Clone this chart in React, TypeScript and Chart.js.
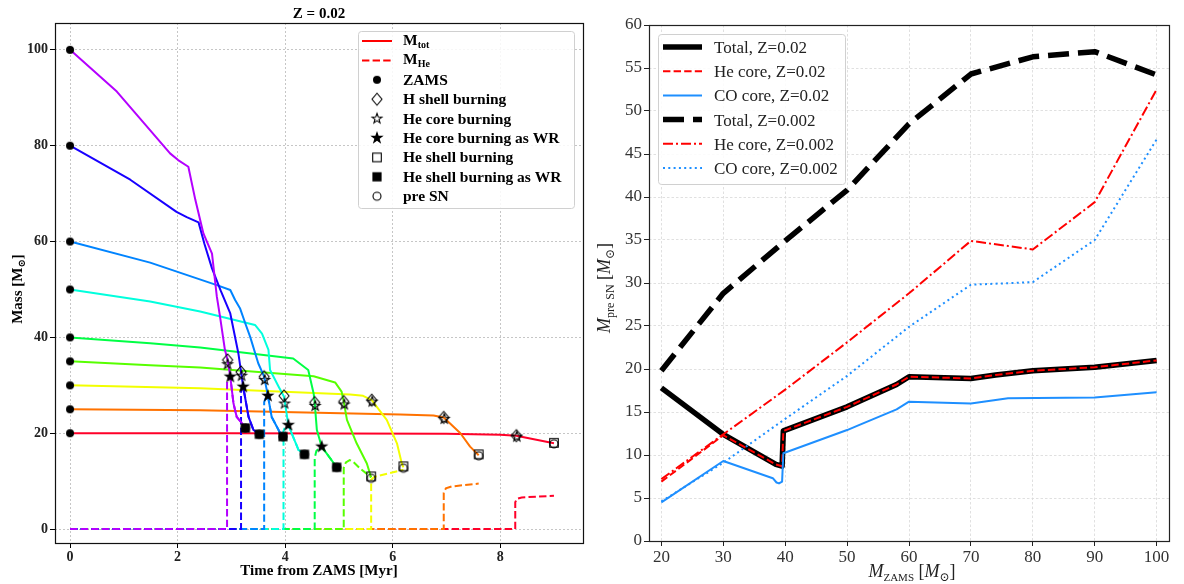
import React, { useEffect, useRef } from "react";
import { Chart, registerables } from "chart.js";

Chart.register(...registerables);

const SERIF = '"Liberation Serif", "DejaVu Serif", "Times New Roman", serif';

// ---------------- Left panel: mass tracks at Z = 0.02 (time in Myr, mass in Msun) ----------------
const initialMasses = [20, 25, 30, 35, 40, 50, 60, 80, 100];
const trackColors = ["#ff0029", "#ff7200", "#f2ff00", "#57ff00", "#00ff44", "#00ffdd", "#0084ff", "#1800ff", "#b400ff"];

const totTrack20 = [[0, 20], [3, 20], [7, 19.9], [8, 19.7], [8.3, 19.5], [9.0, 17.9]];
const totTrack25 = [[0, 25], [2.42, 24.8], [6.14, 23.9], [6.76, 23.7], [6.95, 23.3], [7.26, 20.0], [7.44, 17.2], [7.6, 15.4]];
const totTrack30 = [[0, 30], [2.42, 29.4], [5.21, 28.1], [5.45, 27.8], [5.61, 26.9], [5.89, 22.8], [6.08, 17.9], [6.17, 13.7], [6.2, 12.9]];
const totTrack35 = [[0, 35], [1.49, 34.2], [2.42, 33.7], [4.53, 31.9], [4.93, 30.6], [5.05, 28.7], [5.09, 26.6], [5.15, 22.8], [5.33, 17.9], [5.52, 13.7], [5.6, 10.8]];
const totTrack40 = [[0, 40], [1.49, 38.8], [2.42, 37.9], [4.15, 35.6], [4.43, 33.2], [4.53, 28.3], [4.55, 26.4], [4.59, 20.7], [4.68, 17.2], [4.96, 12.9]];
const totTrack50 = [[0, 50], [1.49, 47.5], [2.42, 45.4], [3.44, 42.6], [3.57, 40.8], [3.69, 37.4], [3.72, 33.2], [3.88, 29.7], [3.98, 27.6], [4.06, 21.7], [4.25, 16.5], [4.36, 15.6]];
const totTrack60 = [[0, 60], [1.49, 55.6], [2.73, 50.9], [2.98, 49.9], [3.07, 47.8], [3.16, 46.1], [3.26, 42.9], [3.35, 40.1], [3.5, 34.6], [3.61, 31.8], [3.68, 27.8], [3.75, 23.4], [3.91, 20.0], [3.96, 19.3]];
const totTrack80 = [[0, 80], [1.12, 72.9], [1.98, 66.2], [2.17, 65.1], [2.39, 64.0], [2.5, 59.5], [2.64, 54.4], [2.8, 49.8], [2.98, 45.0], [3.13, 36.7], [3.18, 32.8], [3.22, 29.7], [3.32, 23.4], [3.41, 20.7], [3.52, 19.8]];
const totTrack100 = [[0, 100], [0.87, 91.3], [1.86, 78.4], [2.01, 77.0], [2.2, 75.6], [2.33, 68.7], [2.48, 61.7], [2.64, 57.5], [2.73, 48.5], [2.79, 44.3], [2.88, 37.4], [2.93, 35.3], [2.98, 31.8], [3.04, 26.2], [3.1, 23.4], [3.19, 22.2], [3.26, 21.1]];

const heTrack20 = [[0, 0], [8.28, 0], [8.28, 5.6], [8.31, 6.3], [8.4, 6.6], [9.0, 6.95]];
const heTrack25 = [[0, 0], [6.95, 0], [6.95, 7.6], [6.99, 8.5], [7.1, 8.9], [7.6, 9.5]];
const heTrack30 = [[0, 0], [5.6, 0], [5.6, 10.3], [5.66, 10.9], [6.2, 12.4]];
const heTrack35 = [[0, 0], [5.09, 0], [5.09, 12.8], [5.13, 13.9], [5.2, 14.4], [5.27, 14.0], [5.39, 12.7], [5.6, 10.8]];
const heTrack40 = [[0, 0], [4.55, 0], [4.55, 14.8], [4.58, 16.3], [4.63, 16.8], [4.68, 17.2], [4.96, 12.9]];
const heTrack50 = [[0, 0], [3.97, 0], [3.97, 20.5], [4.0, 21.3], [4.06, 21.7], [4.25, 16.5], [4.36, 15.6]];
const heTrack60 = [[0, 0], [3.61, 0], [3.61, 26.5], [3.64, 27.4], [3.68, 27.8], [3.75, 23.4], [3.91, 20.0], [3.96, 19.3]];
const heTrack80 = [[0, 0], [3.18, 0], [3.18, 28.5], [3.2, 29.4], [3.22, 29.7], [3.32, 23.4], [3.41, 20.7], [3.52, 19.8]];
const heTrack100 = [[0, 0], [2.92, 0], [2.92, 30.5], [2.95, 31.5], [2.98, 31.8], [3.04, 26.2], [3.1, 23.4], [3.19, 22.2], [3.26, 21.1]];

const zamsPoints = [[0, 20], [0, 25], [0, 30], [0, 35], [0, 40], [0, 50], [0, 60], [0, 80], [0, 100]];
const hShellPoints = [[2.93, 35.3], [3.18, 32.8], [3.61, 31.8], [3.98, 27.8], [4.55, 26.4], [5.09, 26.6], [5.61, 26.9], [6.95, 23.3], [8.3, 19.5]];
const heCorePoints = [[2.93, 34.4], [3.19, 32.0], [3.62, 31.1], [3.99, 26.2], [4.56, 25.7], [5.1, 26.0], [5.62, 26.6], [6.96, 23.0], [8.31, 19.3]];
const heCoreWRPoints = [[2.98, 31.8], [3.22, 29.7], [3.68, 27.8], [4.06, 21.7], [4.68, 17.2]];
const heShellPoints = [[5.6, 11.0], [6.2, 13.1], [7.6, 15.6], [9.0, 18.0]];
const heShellWRPoints = [[3.26, 21.1], [3.52, 19.8], [3.96, 19.3], [4.36, 15.6], [4.96, 12.9]];
const preSNPoints = [[3.26, 21.1], [3.52, 19.8], [3.96, 19.3], [4.36, 15.6], [4.96, 12.9], [5.6, 10.6], [6.2, 12.7], [7.6, 15.3], [9.0, 17.8]];

const timeTicks = [0, 2, 4, 6, 8];
const massTicks = [0, 20, 40, 60, 80, 100];

// ---------------- Right panel: pre-SN masses vs ZAMS mass ----------------
const mZamsZ02 = [20, 30, 38.5, 39.5, 39.7, 50, 58, 60, 70, 74, 80, 90, 100];
const totalZ02 = [17.8, 12.4, 8.9, 8.7, 12.8, 15.6, 18.2, 19.1, 18.9, 19.3, 19.8, 20.2, 21.0];
const heCoreZ02 = [6.9, 12.3, 8.9, 8.7, 12.8, 15.6, 18.2, 19.1, 18.9, 19.3, 19.8, 20.2, 21.0];
const mZamsCOZ02 = [20, 30, 38, 38.6, 39.0, 39.5, 39.7, 50, 52, 58, 60, 70, 74, 76, 90, 100];
const coCoreZ02 = [4.5, 9.3, 7.3, 6.8, 6.7, 6.9, 10.2, 12.9, 13.5, 15.3, 16.2, 16.0, 16.4, 16.6, 16.7, 17.3];
const mZamsZ002 = [20, 30, 40, 50, 60, 70, 80, 90, 100];
const totalZ002 = [19.8, 28.8, 34.9, 40.8, 48.5, 54.3, 56.3, 56.9, 54.2];
const heCoreZ002 = [7.2, 12.4, 17.6, 23.1, 28.8, 34.9, 33.9, 39.4, 52.5];
const coCoreZ002 = [4.6, 9.1, 14.2, 19.2, 24.9, 29.8, 30.1, 35.0, 46.7];

const zamsTicks = [20, 30, 40, 50, 60, 70, 80, 90, 100];
const preSNTicks = [0, 5, 10, 15, 20, 25, 30, 35, 40, 45, 50, 55, 60];

const pairs = (list: number[][]) => list.map(([x, y]) => ({ x, y }));
const zip = (xs: number[], ys: number[]) => xs.map((x, i) => ({ x, y: ys[i] }));

function makeMarker(kind: string): HTMLCanvasElement {
  const size = 20;
  const c = document.createElement("canvas");
  c.width = size;
  c.height = size;
  const g = c.getContext("2d")!;
  const m = size / 2;
  g.strokeStyle = "#000";
  g.fillStyle = "#000";
  g.lineWidth = 1.1;
  const star = (ro: number, ri: number) => {
    g.beginPath();
    for (let i = 0; i < 10; i++) {
      const a = -Math.PI / 2 + (i * Math.PI) / 5;
      const r = i % 2 === 0 ? ro : ri;
      const px = m + r * Math.cos(a);
      const py = m + r * Math.sin(a);
      if (i === 0) g.moveTo(px, py);
      else g.lineTo(px, py);
    }
    g.closePath();
  };
  if (kind === "zams") {
    g.beginPath();
    g.arc(m, m, 4, 0, Math.PI * 2);
    g.fill();
  } else if (kind === "hshell") {
    g.beginPath();
    g.moveTo(m, m - 6);
    g.lineTo(m + 5, m);
    g.lineTo(m, m + 6);
    g.lineTo(m - 5, m);
    g.closePath();
    g.stroke();
  } else if (kind === "hecore") {
    star(5.2, 2.1);
    g.stroke();
  } else if (kind === "hecoreWR") {
    star(7, 2.8);
    g.fill();
  } else if (kind === "heshell") {
    g.strokeRect(m - 4.3, m - 4.3, 8.6, 8.6);
  } else if (kind === "heshellWR") {
    g.fillRect(m - 4.6, m - 4.6, 9.2, 9.2);
  } else if (kind === "preSN") {
    g.beginPath();
    g.arc(m, m, 4, 0, Math.PI * 2);
    g.stroke();
  }
  return c;
}

type Part = { t: string; f: string; dy?: number };
function rich(ctx: CanvasRenderingContext2D, parts: Part[], x: number, y: number, align: "left" | "center") {
  let w = 0;
  for (const p of parts) {
    ctx.font = p.f;
    w += ctx.measureText(p.t).width;
  }
  let cx = align === "center" ? x - w / 2 : x;
  ctx.textAlign = "left";
  for (const p of parts) {
    ctx.font = p.f;
    ctx.fillText(p.t, cx, y + (p.dy || 0));
    cx += ctx.measureText(p.t).width;
  }
}

function legendBox(ctx: CanvasRenderingContext2D, x: number, y: number, w: number, h: number) {
  ctx.save();
  ctx.beginPath();
  (ctx as any).roundRect(x + 0.5, y + 0.5, w, h, 3);
  ctx.fillStyle = "rgba(255,255,255,0.85)";
  ctx.fill();
  ctx.strokeStyle = "#d0d0d0";
  ctx.lineWidth = 1;
  ctx.stroke();
  ctx.restore();
}

function handleLine(ctx: CanvasRenderingContext2D, x0: number, x1: number, y: number, color: string, width: number, dash: number[]) {
  ctx.save();
  ctx.strokeStyle = color;
  ctx.lineWidth = width;
  ctx.setLineDash(dash);
  ctx.beginPath();
  ctx.moveTo(x0, y);
  ctx.lineTo(x1, y);
  ctx.stroke();
  ctx.restore();
}

function frame(ctx: CanvasRenderingContext2D, a: any, color: string) {
  ctx.save();
  ctx.strokeStyle = color;
  ctx.lineWidth = 1.2;
  ctx.setLineDash([]);
  ctx.strokeRect(Math.round(a.left) + 0.5, Math.round(a.top) + 0.5, Math.round(a.right - a.left), Math.round(a.bottom - a.top));
  ctx.restore();
}

const HE_DASH = [7.4, 3.2];

export default function App() {
  const leftRef = useRef<HTMLCanvasElement>(null);
  const rightRef = useRef<HTMLCanvasElement>(null);

  useEffect(() => {
    const mk = {
      zams: makeMarker("zams"),
      hshell: makeMarker("hshell"),
      hecore: makeMarker("hecore"),
      hecoreWR: makeMarker("hecoreWR"),
      heshell: makeMarker("heshell"),
      heshellWR: makeMarker("heshellWR"),
      preSN: makeMarker("preSN"),
    };

    const totTracks = [totTrack20, totTrack25, totTrack30, totTrack35, totTrack40, totTrack50, totTrack60, totTrack80, totTrack100];
    const heTracks = [heTrack20, heTrack25, heTrack30, heTrack35, heTrack40, heTrack50, heTrack60, heTrack80, heTrack100];

    // listed bottom-to-top
    const leftSets: any[] = [];
    initialMasses.forEach((m, i) => {
      leftSets.push({
        label: `M_tot ${m}`,
        data: pairs(totTracks[i]),
        showLine: true,
        borderColor: trackColors[i],
        borderWidth: 2,
        pointRadius: 0,
        borderJoinStyle: "round",
      });
      leftSets.push({
        label: `M_He ${m}`,
        data: pairs(heTracks[i]),
        showLine: true,
        borderColor: trackColors[i],
        borderWidth: 2,
        borderDash: HE_DASH,
        pointRadius: 0,
      });
    });
    const markerSets: [number[][], HTMLCanvasElement][] = [
      [zamsPoints, mk.zams],
      [hShellPoints, mk.hshell],
      [heCorePoints, mk.hecore],
      [preSNPoints, mk.preSN],
      [heShellPoints, mk.heshell],
      [heCoreWRPoints, mk.hecoreWR],
      [heShellWRPoints, mk.heshellWR],
    ];
    markerSets.forEach(([p, img], k) => {
      leftSets.push({
        label: `marker ${k}`,
        data: pairs(p),
        showLine: false,
        pointStyle: img,
        pointRadius: 5,
        pointHoverRadius: 5,
      });
    });
    leftSets.forEach((d, i) => (d.order = leftSets.length - i));

    const leftDecor = {
      id: "leftDecor",
      afterDraw(chart: any) {
        const { ctx, chartArea: a } = chart;
        frame(ctx, a, "#111");
        ctx.save();
        ctx.fillStyle = "#000";
        ctx.textBaseline = "alphabetic";
        const cx = (a.left + a.right) / 2;
        const b15 = `bold 15px ${SERIF}`;
        const b10 = `bold 10px ${SERIF}`;
        rich(ctx, [{ t: "Z = 0.02", f: b15 }], cx, 18, "center");
        rich(ctx, [{ t: "Time from ZAMS [Myr]", f: b15 }], cx, 575, "center");
        ctx.save();
        ctx.translate(17, (a.top + a.bottom) / 2 + 6);
        ctx.rotate(-Math.PI / 2);
        rich(ctx, [{ t: "Mass [M", f: b15 }, { t: "⊙", f: b10, dy: 3 }, { t: "]", f: b15 }], 0, 5, "center");
        ctx.restore();

        // legend
        legendBox(ctx, 358, 31, 216, 177);
        const x0 = 362, x1 = 392, mx = 377, tx = 403;
        const rowY = (i: number) => 41 + i * 19.4;
        handleLine(ctx, x0, x1, rowY(0), "#ff0000", 2, []);
        handleLine(ctx, x0, x1, rowY(1), "#ff0000", 2, HE_DASH);
        const imgs = [mk.zams, mk.hshell, mk.hecore, mk.hecoreWR, mk.heshell, mk.heshellWR, mk.preSN];
        imgs.forEach((img, k) => ctx.drawImage(img, mx - 10, rowY(k + 2) - 10));
        ctx.fillStyle = "#000";
        const b14 = `bold 15.5px ${SERIF}`;
        const b9 = `bold 10px ${SERIF}`;
        rich(ctx, [{ t: "M", f: b14 }, { t: "tot", f: b9, dy: 3 }], tx, rowY(0) + 4, "left");
        rich(ctx, [{ t: "M", f: b14 }, { t: "He", f: b9, dy: 3 }], tx, rowY(1) + 4, "left");
        const texts = ["ZAMS", "H shell burning", "He core burning", "He core burning as WR", "He shell burning", "He shell burning as WR", "pre SN"];
        texts.forEach((t, k) => rich(ctx, [{ t, f: b14 }], tx, rowY(k + 2) + 5, "left"));
        ctx.restore();
      },
    };

    const left = new Chart(leftRef.current!, {
      type: "scatter",
      data: { datasets: leftSets },
      options: {
        animation: false,
        responsive: false,
        devicePixelRatio: 1,
        layout: { padding: { top: 23, right: 9, left: 0, bottom: 0 } },
        plugins: { legend: { display: false }, tooltip: { enabled: false } },
        scales: {
          x: {
            type: "linear",
            min: -0.28,
            max: 9.54,
            afterBuildTicks: (s: any) => {
              s.ticks = timeTicks.map((v) => ({ value: v }));
            },
            afterFit: (s: any) => {
              s.height = 41;
            },
            ticks: { font: { family: SERIF, size: 14, weight: "bold" }, color: "#222", padding: 1, maxRotation: 0 },
            grid: { color: "#b8b8b8", lineWidth: 0.8, tickColor: "#000", tickLength: 5, tickWidth: 1, tickBorderDash: [] },
            border: { display: false, dash: [2, 2] },
          },
          y: {
            type: "linear",
            min: -2.9,
            max: 105.6,
            afterBuildTicks: (s: any) => {
              s.ticks = massTicks.map((v) => ({ value: v }));
            },
            afterFit: (s: any) => {
              s.width = 55;
            },
            ticks: { font: { family: SERIF, size: 14, weight: "bold" }, color: "#222", padding: 2 },
            grid: { color: "#b8b8b8", lineWidth: 0.8, tickColor: "#000", tickLength: 5, tickWidth: 1, tickBorderDash: [] },
            border: { display: false, dash: [2, 2] },
          },
        },
      } as any,
      plugins: [leftDecor],
    });

    // ---------- right panel ----------
    const blue = "#1e8fff";
    const rightSets: any[] = [
      { label: "Total, Z=0.02", data: zip(mZamsZ02, totalZ02), borderColor: "#000", borderWidth: 5.5, borderDash: [] },
      { label: "He core, Z=0.02", data: zip(mZamsZ02, heCoreZ02), borderColor: "#ff0000", borderWidth: 2, borderDash: HE_DASH },
      { label: "CO core, Z=0.02", data: zip(mZamsCOZ02, coCoreZ02), borderColor: blue, borderWidth: 2, borderDash: [] },
      { label: "Total, Z=0.002", data: zip(mZamsZ002, totalZ002), borderColor: "#000", borderWidth: 5.5, borderDash: [21, 9] },
      { label: "He core, Z=0.002", data: zip(mZamsZ002, heCoreZ002), borderColor: "#ff0000", borderWidth: 2, borderDash: [10, 3, 2, 3] },
      { label: "CO core, Z=0.002", data: zip(mZamsZ002, coCoreZ002), borderColor: blue, borderWidth: 2, borderDash: [2, 3.3] },
    ].map((d, i, arr) => ({ ...d, showLine: true, pointRadius: 0, borderJoinStyle: "round", order: arr.length - i }));

    const rightDecor = {
      id: "rightDecor",
      afterDraw(chart: any) {
        const { ctx, chartArea: a } = chart;
        frame(ctx, a, "#222");
        ctx.save();
        ctx.fillStyle = "#222";
        ctx.textBaseline = "alphabetic";
        const it = `italic 18px ${SERIF}`;
        const rg = `18px ${SERIF}`;
        const sm = `12px ${SERIF}`;
        rich(
          ctx,
          [{ t: "M", f: it }, { t: "ZAMS", f: `11px ${SERIF}`, dy: 4 }, { t: " [", f: rg }, { t: "M", f: it }, { t: "⊙", f: sm, dy: 4 }, { t: "]", f: rg }],
          (a.left + a.right) / 2 + 3,
          577,
          "center"
        );
        ctx.save();
        ctx.translate(12, (a.top + a.bottom) / 2 + 5);
        ctx.rotate(-Math.PI / 2);
        rich(
          ctx,
          [{ t: "M", f: it }, { t: "pre SN", f: sm, dy: 4 }, { t: " [", f: rg }, { t: "M", f: it }, { t: "⊙", f: sm, dy: 4 }, { t: "]", f: rg }],
          0,
          6,
          "center"
        );
        ctx.restore();

        legendBox(ctx, 66, 34, 187, 150);
        const x0 = 71, x1 = 110, tx = 122;
        const rowY = (i: number) => 47 + i * 24.2;
        const handles: [string, number, number[]][] = [
          ["#000", 5.5, []],
          ["#ff0000", 2, HE_DASH],
          [blue, 2, []],
          ["#000", 5.5, [21, 9]],
          ["#ff0000", 2, [10, 3, 2, 3]],
          [blue, 2, [2, 3.3]],
        ];
        const labels = ["Total, Z=0.02", "He core, Z=0.02", "CO core, Z=0.02", "Total, Z=0.002", "He core, Z=0.002", "CO core, Z=0.002"];
        handles.forEach(([c, w, d], k) => handleLine(ctx, x0, x1, rowY(k), c, w, d));
        ctx.fillStyle = "#222";
        labels.forEach((t, k) => rich(ctx, [{ t, f: `17px ${SERIF}` }], tx, rowY(k) + 6, "left"));
        ctx.restore();
      },
    };

    const right = new Chart(rightRef.current!, {
      type: "scatter",
      data: { datasets: rightSets },
      options: {
        animation: false,
        responsive: false,
        devicePixelRatio: 1,
        layout: { padding: { top: 25, right: 15, left: 0, bottom: 0 } },
        plugins: { legend: { display: false }, tooltip: { enabled: false } },
        scales: {
          x: {
            type: "linear",
            min: 18,
            max: 102,
            afterBuildTicks: (s: any) => {
              s.ticks = zamsTicks.map((v) => ({ value: v }));
            },
            afterFit: (s: any) => {
              s.height = 43;
            },
            ticks: { font: { family: SERIF, size: 17 }, color: "#333", padding: 1, maxRotation: 0 },
            grid: { color: "#d8d8d8", lineWidth: 0.8, tickColor: "#222", tickLength: 5, tickWidth: 1, tickBorderDash: [] },
            border: { display: false, dash: [2.5, 2] },
          },
          y: {
            type: "linear",
            min: 0,
            max: 60,
            afterBuildTicks: (s: any) => {
              s.ticks = preSNTicks.map((v) => ({ value: v }));
            },
            afterFit: (s: any) => {
              s.width = 57;
            },
            ticks: { font: { family: SERIF, size: 17 }, color: "#333", padding: 2 },
            grid: { color: "#d8d8d8", lineWidth: 0.8, tickColor: "#222", tickLength: 5, tickWidth: 1, tickBorderDash: [] },
            border: { display: false, dash: [2.5, 2] },
          },
        },
      } as any,
      plugins: [rightDecor],
    });

    return () => {
      left.destroy();
      right.destroy();
    };
  }, []);

  return (
    <div style={{ position: "absolute", left: 0, top: 0, width: 1184, height: 584, background: "#fff" }}>
      <canvas ref={leftRef} width={592} height={584} style={{ position: "absolute", left: 0, top: 0 }} />
      <canvas ref={rightRef} width={592} height={584} style={{ position: "absolute", left: 592, top: 0 }} />
    </div>
  );
}
